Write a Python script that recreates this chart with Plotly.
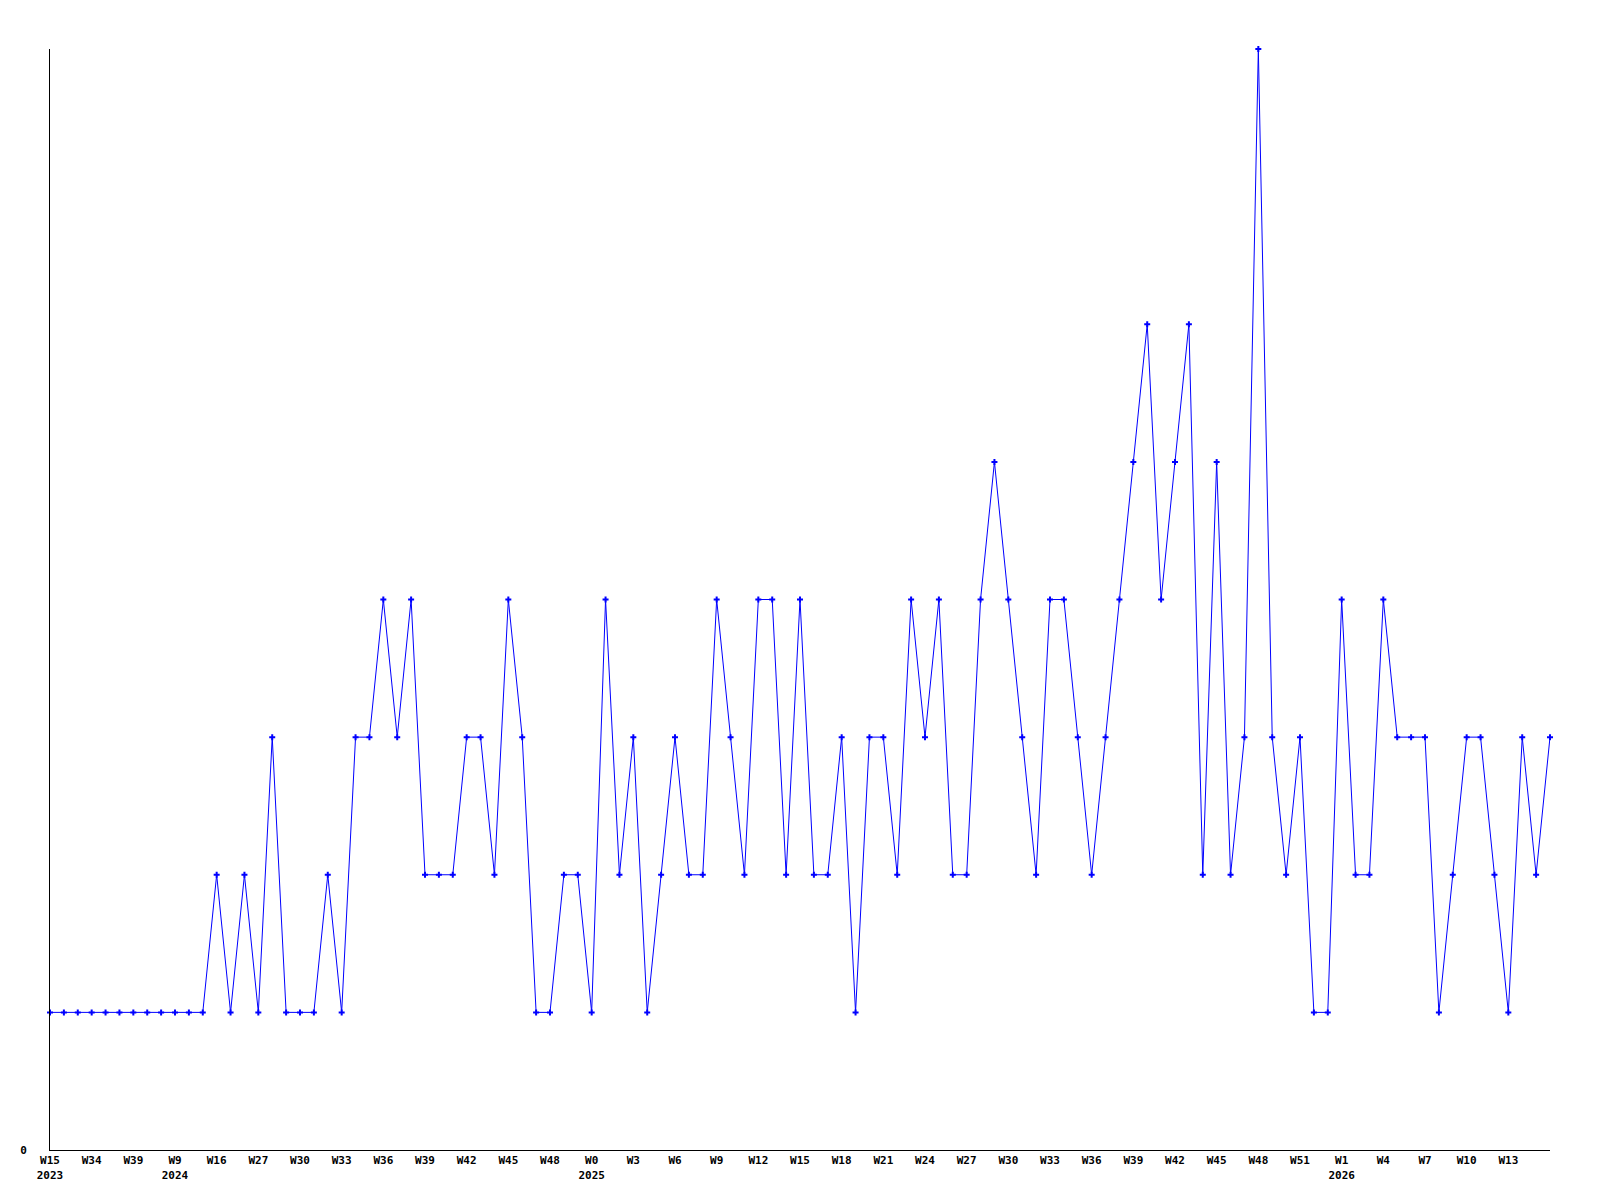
import plotly.graph_objects as go

# weekly counts, one entry per data point (left to right)
counts = [1, 1, 1, 1, 1, 1, 1, 1, 1, 1, 1, 1,
          2, 1, 2, 1, 3, 1, 1, 1, 2, 1, 3, 3, 4, 3, 4, 2, 2, 2,
          3, 3, 2, 4, 3, 1, 1, 2, 2, 1, 4, 2, 3, 1, 2, 3, 2, 2,
          4, 3, 2, 4, 4, 2, 4, 2, 2, 3, 1, 3, 3, 2, 4, 3, 4, 2,
          2, 4, 5, 4, 3, 2, 4, 4, 3, 2, 3, 4, 5, 6, 4, 5, 6, 2,
          5, 2, 3, 8, 3, 2, 3, 1, 1, 4, 2, 2, 4, 3, 3, 3, 1, 2,
          3, 3, 2, 1, 3, 2, 3]

# labels shown under every third point
week_labels = ["W15", "W34", "W39", "W9", "W16", "W27", "W30", "W33", "W36",
               "W39", "W42", "W45", "W48", "W0", "W3", "W6", "W9", "W12",
               "W15", "W18", "W21", "W24", "W27", "W30", "W33", "W36", "W39",
               "W42", "W45", "W48", "W51", "W1", "W4", "W7", "W10", "W13"]
year_labels = ["2023", "", "", "2024", "", "", "", "", "",
               "", "", "", "", "2025", "", "", "", "",
               "", "", "", "", "", "", "", "", "",
               "", "", "", "", "2026", "", "", "", ""]

steps = list(range(len(counts)))
tick_pos = steps[::3][:len(week_labels)]
tick_text = []
for w, y in zip(week_labels, year_labels):
    if y:
        tick_text.append("<b>" + w + "</b><br><b>" + y + "</b>")
    else:
        tick_text.append("<b>" + w + "</b><br> ")

fig = go.Figure()
fig.add_trace(go.Scatter(x=steps, y=counts, mode='lines+markers',
                         line=dict(color='#0000ff', width=1),
                         marker=dict(symbol='cross', size=5, color='#0000ff'),
                         cliponaxis=False, showlegend=False))

# page body adds 8px, so margins are shifted to keep the axes where they belong
fig.update_layout(width=1600, height=1200, plot_bgcolor='white', paper_bgcolor='white',
                  margin=dict(l=42, r=58, t=41, b=58),
                  font=dict(family='DejaVu Sans Mono', size=11, color='black'))
fig.update_xaxes(range=[0, len(counts) - 1], tickmode='array', tickvals=tick_pos,
                 ticktext=tick_text, automargin=False,
                 showgrid=False, zeroline=False, showline=True, linecolor='black',
                 linewidth=1, ticks='', tickangle=0)
fig.update_yaxes(range=[0, 8], tickmode='array', tickvals=[0], ticktext=['<b>0</b>'],
                 automargin=False,
                 showgrid=False, zeroline=False, showline=True, linecolor='black',
                 linewidth=1, ticks='', ticklabelstandoff=20)

fig.write_html("out.html")
